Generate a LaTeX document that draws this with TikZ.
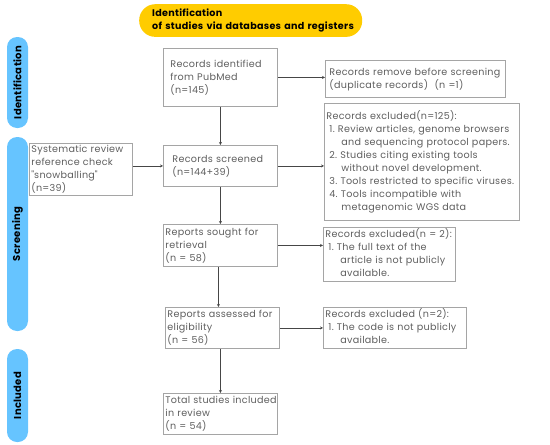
\documentclass[tikz,border=0pt]{standalone}
\usepackage{fontspec}
\setmainfont{Poppins}[LetterSpace=3]
\usetikzlibrary{arrows.meta, positioning, calc}
\definecolor{titleyellow}{RGB}{255, 204, 0}
\definecolor{phaseblue}{RGB}{102, 196, 255}
\definecolor{boxgray}{RGB}{165, 165, 165}
\definecolor{textgray}{RGB}{95, 95, 95}
\definecolor{arrowgray}{RGB}{70, 70, 70}
\newcommand{\lines}[1]{\begin{tabular}{@{}l@{}}#1\end{tabular}}
\newcommand{\firstitem}[1]{\hspace*{3pt}#1~}
\newcommand{\nextline}{\hspace*{15pt}}

\begin{document}
\begin{tikzpicture}[
    x=1pt, y=1pt,
    box/.style={
        rectangle,
        draw=boxgray,
        line width=0.8pt,
        fill=white,
        anchor=north west,
        align=left,
        inner xsep=2pt,
        inner ysep=1pt,
        text=textgray,
        font=\fontsize{9.6}{13}\selectfont
    },
    titlebox/.style={
        rectangle,
        rounded corners=16pt,
        fill=titleyellow,
        anchor=north west,
        align=left,
        inner xsep=13pt,
        text width=197pt,
        minimum height=32pt,
        font=\fontsize{9.6}{13}\selectfont\bfseries
    },
    phase/.style={
        rectangle,
        rounded corners=10pt,
        fill=phaseblue,
        minimum height=21pt,
        inner sep=0pt,
        rotate=90,
        font=\fontsize{10}{12}\selectfont\bfseries
    },
    arrow/.style={
        -{Stealth[length=3pt, width=3pt]},
        line width=0.7pt,
        draw=arrowgray
    }
]
    \useasboundingbox (0,0) rectangle (550,-445);

    % Title
    \node[titlebox] (title) at (139,-4) {\lines{Identification\\of studies via databases and registers}};

    % Phase labels
    \node[phase, minimum width=91pt] (phaseid) at (17.5,-82.5) {Identification};
    \node[phase, minimum width=194pt] (phasescr) at (17.5,-234) {Screening};
    \node[phase, minimum width=93pt] (phaseinc) at (17.5,-395.5) {Included};

    % Main column
    \node[box, inner xsep=7pt, text width=100pt, minimum height=58pt] (pubmed) at (163,-48) {
        \lines{Records identified\\from PubMed\\(n=145)}};
    \node[box, inner xsep=9pt, text width=96pt, minimum height=41pt] (screened) at (163,-145) {
        \lines{Records screened\\(n=144+39)}};
    \node[box, text width=110pt, minimum height=42pt] (sought) at (163,-224) {
        \lines{Reports sought for\\retrieval\\(n = 58)}};
    \node[box, text width=110pt, minimum height=41pt] (assessed) at (165,-307) {
        \lines{Reports assessed for\\eligibility\\(n = 56)}};
    \node[box, text width=110pt, minimum height=41pt] (total) at (163,-393) {
        \lines{Total studies included\\in review\\(n = 54)}};

    % Side boxes
    \node[box, text width=99pt, minimum height=51pt, inner ysep=0pt] (snowball) at (29,-143) {
        \lines{Systematic review\\reference check\\\textquotedbl snowballing\textquotedbl\\(n=39)}};
    \node[box, inner xsep=4pt, text width=172pt, minimum height=37pt] (removed) at (325,-60) {
        \lines{Records remove before screening\\(duplicate records)~ (n =1)}};
    \node[box, text width=191pt, minimum height=117pt] (excl1) at (324,-103) {
        \lines{Records excluded(n=125):\\
        \firstitem{1.}Review articles, genome browsers\\
        \nextline and sequencing protocol papers.\\
        \firstitem{2.}Studies citing existing tools\\
        \nextline without novel development.\\
        \firstitem{3.}Tools restricted to specific viruses.\\
        \firstitem{4.}Tools incompatible with\\
        \nextline metagenomic WGS data}};
    \node[box, text width=128pt, minimum height=51pt] (excl2) at (323,-227) {
        \lines{Records excluded(n = 2):\\
        \firstitem{1.}The full text of the\\
        \nextline article is not publicly\\
        \nextline available.}};
    \node[box, text width=139pt, minimum height=40pt] (excl3) at (323,-307) {
        \lines{Records excluded (n=2):\\
        \firstitem{1.}The code is not publicly\\
        \nextline available.}};

    % Arrows
    \draw[arrow] (pubmed.south) -- (pubmed.south |- screened.north);
    \draw[arrow] (screened.south) -- (screened.south |- sought.north);
    \draw[arrow] ([xshift=-2pt]sought.south) -- ([xshift=-2pt]sought.south |- assessed.north);
    \draw[arrow] (assessed.south -| total.north) -- (total.north);
    \draw[arrow] (pubmed.east) -- (pubmed.east -| removed.west);
    \draw[arrow] (screened.west -| snowball.east) -- (screened.west);
    \draw[arrow] (screened.east) -- (screened.east -| excl1.west);
    \draw[arrow] (sought.east) -- (sought.east -| excl2.west);
    \draw[arrow] (assessed.east) -- (assessed.east -| excl3.west);

\end{tikzpicture}
\end{document}
